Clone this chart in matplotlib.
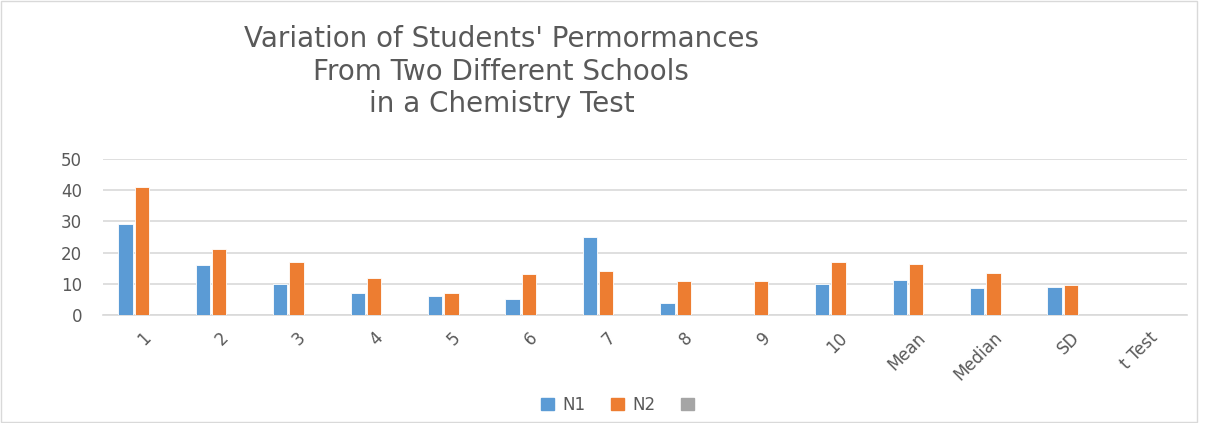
import matplotlib.pyplot as plt
import numpy as np
from matplotlib.patches import Rectangle

plt.rcParams['font.family'] = ['DejaVu Sans']

categories = ['1', '2', '3', '4', '5', '6', '7', '8', '9', '10',
              'Mean', 'Median', 'SD', 't Test']
n1 = [29, 16, 10, 7, 6, 5, 25, 4, 0, 10, 11.3, 8.5, 9.1, 0]
n2 = [41, 21, 17, 12, 7, 13, 14, 11, 11, 17, 16.4, 13.5, 9.6, 0]
n3 = [0] * len(categories)

blue = '#5b9bd5'
orange = '#ed7d31'
grey = '#a5a5a5'
text_grey = '#595959'

fig = plt.figure(figsize=(12.14, 4.23), dpi=100)
ax = fig.add_axes([0.0848, 0.2553, 0.893, 0.369])

x = np.arange(len(categories))
w = 0.185
off = 0.21
ax.bar(x - off, n1, w, color=blue, edgecolor='white', linewidth=0.6, zorder=3)
ax.bar(x, n2, w, color=orange, edgecolor='white', linewidth=0.6, zorder=3)
ax.bar(x + off, n3, w, color=grey, zorder=3)

ax.set_xlim(-0.5, len(categories) - 0.5)
ax.set_ylim(0, 50)
ax.set_yticks(range(0, 51, 10))
ax.yaxis.grid(True, color='#d9d9d9', linewidth=1.2, zorder=0)
for s in ['top', 'right', 'left']:
    ax.spines[s].set_visible(False)
ax.spines['bottom'].set_color('#d9d9d9')
ax.spines['bottom'].set_linewidth(1.2)
ax.tick_params(length=0, colors=text_grey, labelsize=12)
ax.tick_params(axis='y', pad=15)
ax.tick_params(axis='x', pad=10)
ax.set_xticks(x)
ax.set_xticklabels(categories, rotation=45, ha='right', rotation_mode='anchor')

fig.text(0.413, 0.94, "Variation of Students' Permormances\nFrom Two Different Schools\nin a Chemistry Test",
         ha='center', va='top', fontsize=20, color=text_grey, linespacing=1.2)

handles = [Rectangle((0, 0), 1, 1, color=c) for c in [blue, orange, grey]]
fig.legend(handles, ['N1', 'N2', ''], loc='center', bbox_to_anchor=(0.512, 0.043),
           ncol=3, frameon=False, fontsize=12, handlelength=0.8, handleheight=0.8,
           columnspacing=1.5, handletextpad=0.5, labelcolor=text_grey)

fig.patches.append(Rectangle((0.001, 0.003), 0.985, 0.994, transform=fig.transFigure,
                             fill=False, edgecolor='#d9d9d9', linewidth=1))

plt.savefig('out.png', dpi=100)
